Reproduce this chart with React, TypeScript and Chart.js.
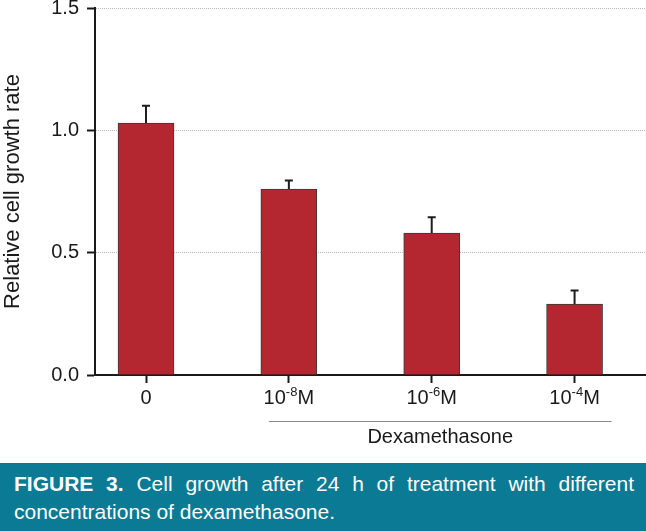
import React, { useEffect, useRef } from "react";
import { Chart, registerables } from "chart.js";

Chart.register(...registerables);

const categories = ["0", "10-8M", "10-6M", "10-4M"];
const tickBase = ["0", "10", "10", "10"];
const tickExp = ["", "-8", "-6", "-4"];
const tickUnit = ["", "M", "M", "M"];
const values = [1.03, 0.76, 0.58, 0.29];
const errors = [0.07, 0.035, 0.065, 0.055];
const yTicks = [0, 0.5, 1.0, 1.5];
const groupLabel = "Dexamethasone";
const yTitle = "Relative cell growth rate";

const FONT = "'Liberation Sans', Arial, Helvetica, sans-serif";

export default function App() {
  const ref = useRef<HTMLCanvasElement | null>(null);

  useEffect(() => {
    document.body.style.margin = "0";
    const canvas = ref.current;
    if (!canvas) return;

    const overlay = {
      id: "overlay",
      afterDatasetsDraw(chart: any) {
        const ctx = chart.ctx;
        const xs = chart.scales.x;
        const ys = chart.scales.y;
        ctx.save();
        ctx.strokeStyle = "#1e1e1e";
        ctx.lineWidth = 2;
        values.forEach((v, i) => {
          const x = xs.getPixelForValue(i);
          const y0 = ys.getPixelForValue(v);
          const y1 = ys.getPixelForValue(v + errors[i]);
          ctx.beginPath();
          ctx.moveTo(x, y0);
          ctx.lineTo(x, y1);
          ctx.moveTo(x - 4, y1);
          ctx.lineTo(x + 4, y1);
          ctx.stroke();
        });
        ctx.restore();
      },
      afterDraw(chart: any) {
        const ctx = chart.ctx;
        const xs = chart.scales.x;
        const base = chart.chartArea.bottom;
        ctx.save();
        ctx.fillStyle = "#1a1a1a";
        ctx.textBaseline = "middle";
        categories.forEach((_, i) => {
          const cx = xs.getPixelForValue(i);
          const big = "20px " + FONT;
          const small = "13px " + FONT;
          ctx.font = big;
          const wb = ctx.measureText(tickBase[i]).width;
          const wu = ctx.measureText(tickUnit[i]).width;
          ctx.font = small;
          const we = ctx.measureText(tickExp[i]).width;
          let x = cx - (wb + we + wu) / 2;
          const y = base + 23;
          ctx.textAlign = "left";
          ctx.font = big;
          ctx.fillText(tickBase[i], x, y);
          x += wb;
          ctx.font = small;
          ctx.fillText(tickExp[i], x, y - 6);
          x += we;
          ctx.font = big;
          ctx.fillText(tickUnit[i], x, y);
        });
        const lx0 = xs.getPixelForValue(1) - 20;
        const lx1 = xs.getPixelForValue(3) + 37;
        ctx.strokeStyle = "#888";
        ctx.lineWidth = 1;
        ctx.beginPath();
        ctx.moveTo(lx0, base + 46.5);
        ctx.lineTo(lx1, base + 46.5);
        ctx.stroke();
        ctx.font = "20px " + FONT;
        ctx.textAlign = "center";
        ctx.fillText(groupLabel, (lx0 + lx1) / 2, base + 62);
        ctx.restore();
      },
    };

    const chart = new Chart(canvas, {
      type: "bar",
      data: {
        datasets: [
          {
            data: values.map((v, i) => ({ x: i, y: v })),
            backgroundColor: "#b52730",
            borderColor: "#3a3a3a",
            borderWidth: 1,
            barThickness: 56,
          },
        ],
      },
      options: {
        responsive: false,
        animation: false,
        layout: { padding: { top: 8, right: 0, left: 0, bottom: 0 } },
        plugins: { legend: { display: false }, tooltip: { enabled: false } },
        scales: {
          x: {
            type: "linear",
            offset: false,
            min: -0.357,
            max: 3.5,
            afterBuildTicks: (s: any) => {
              s.ticks = categories.map((_, i) => ({ value: i }));
            },
            afterFit: (s: any) => {
              s.height = 88;
              s.paddingLeft = 0;
              s.paddingRight = 0;
            },
            ticks: { display: false },
            grid: {
              offset: false,
              drawOnChartArea: false,
              drawTicks: true,
              tickLength: 8,
              tickColor: "#1a1a1a",
              tickWidth: 2,
            },
            border: { color: "#1a1a1a", width: 2 },
          },
          y: {
            min: 0,
            max: 1.5,
            afterBuildTicks: (s: any) => {
              s.ticks = yTicks.map((v) => ({ value: v }));
            },
            afterFit: (s: any) => {
              s.width = 95;
              s.paddingTop = 0;
              s.paddingBottom = 0;
            },
            ticks: {
              font: { family: FONT, size: 20 },
              color: "#1a1a1a",
              padding: 8,
              callback: (v: any) => Number(v).toFixed(1),
            },
            grid: {
              color: "#b8b8b8",
              lineWidth: 1,
              tickColor: "#1a1a1a",
              tickWidth: 2,
              tickLength: 8,
            },
            border: { color: "#1a1a1a", width: 2, dash: [1, 1] },
            title: {
              display: true,
              text: yTitle,
              font: { family: FONT, size: 22 },
              color: "#1a1a1a",
              padding: 0,
            },
          },
        },
      },
      plugins: [overlay],
    });
    return () => chart.destroy();
  }, []);

  return (
    <div style={{ width: 646, height: 531, background: "#fff", position: "relative" }}>
      <canvas ref={ref} width={646} height={463} style={{ display: "block" }} />
      <div
        style={{
          background: "#0b7a95",
          height: 68,
          boxSizing: "border-box",
          padding: "7px 12px 0 14px",
          color: "#fff",
          fontFamily: FONT,
          fontSize: 21,
          lineHeight: "28px",
        }}
      >
        <div style={{ textAlign: "justify", textAlignLast: "justify", whiteSpace: "nowrap" }}>
          <b>FIGURE 3.</b> Cell growth after 24 h of treatment with different
        </div>
        <div>concentrations of dexamethasone.</div>
      </div>
    </div>
  );
}
